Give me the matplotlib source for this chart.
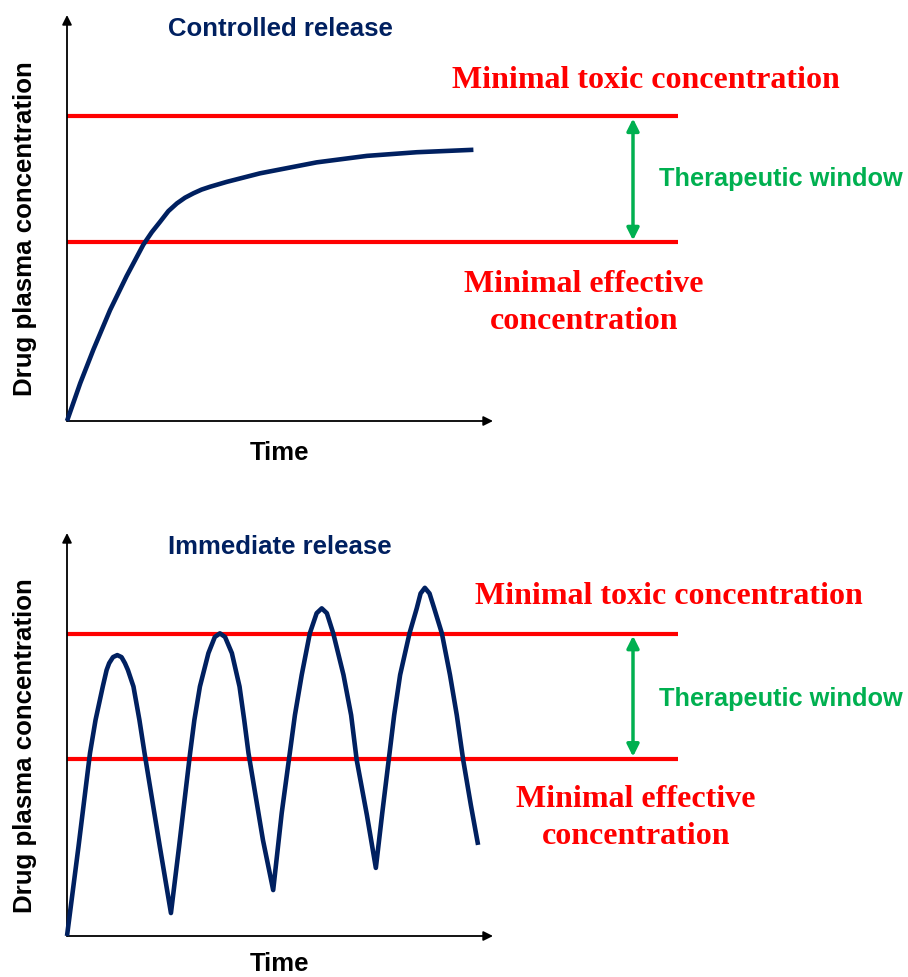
import matplotlib
matplotlib.use("Agg")
import matplotlib.pyplot as plt

# ---- data (time and concentration in arbitrary units) ----
controlled_t = [0, 0.31, 0.62, 1.01, 1.40, 1.79, 1.99, 2.18, 2.38, 2.58, 2.77, 2.97,
                3.16, 3.36, 3.75, 4.53, 5.86, 7.04, 8.21, 9.54]
controlled_c = [0, 0.93, 1.76, 2.73, 3.57, 4.34, 4.65, 4.90, 5.17, 5.36, 5.50, 5.61,
                5.70, 5.77, 5.89, 6.10, 6.37, 6.53, 6.62, 6.68]

immediate_t = [0, 0.27, 0.54, 0.67, 0.84, 0.93, 0.99, 1.08, 1.18, 1.28, 1.36, 1.43, 1.56,
               1.70, 1.82, 2.18, 2.44,
               2.63, 2.89, 2.99, 3.12, 3.32, 3.47, 3.59, 3.71, 3.87, 4.05, 4.16, 4.26,
               4.60, 4.84,
               5.04, 5.35, 5.51, 5.70, 5.86, 5.98, 6.10, 6.25, 6.49, 6.67, 6.80, 7.04, 7.25,
               7.40, 7.68, 7.82, 8.04, 8.21, 8.30, 8.40, 8.51, 8.62, 8.80, 8.99, 9.15,
               9.30, 9.48, 9.65]
immediate_c = [0, 2.22, 4.54, 5.36, 6.19, 6.60, 6.77, 6.92, 6.97, 6.92, 6.77, 6.60, 6.19,
               5.36, 4.54, 2.21, 0.57,
               2.21, 4.54, 5.36, 6.19, 7.02, 7.42, 7.51, 7.42, 7.02, 6.19, 5.36, 4.54,
               2.38, 1.14,
               3.05, 5.48, 6.48, 7.51, 8.01, 8.13, 8.01, 7.51, 6.48, 5.48, 4.37, 3.00, 1.69,
               3.05, 5.48, 6.48, 7.51, 8.13, 8.50, 8.64, 8.50, 8.13, 7.51, 6.48, 5.48,
               4.37, 3.25, 2.26]

toxic_level = 7.5
effective_level = 4.4

NAVY = "#002060"
RED = "#ff0000"
GREEN = "#00b050"

W, H = 908, 977
fig = plt.figure(figsize=(W / 100, H / 100), dpi=100)


def fx(px):
    return px / W


def fy(py):
    return 1 - py / H


def panel(top_px, origin_px, t, c, title, toxic_xy, window_y, effective_xy, time_y):
    ax = fig.add_axes([fx(67), fy(origin_px), fx(W - 67), (origin_px - top_px) / H])
    ax.set_xlim(0, (W - 67) / 42.6)
    ax.set_ylim(0, 10)
    ax.axis("off")

    # axes with arrow heads
    for tip in [(10, 0), (0, 10)]:
        ax.annotate("", xy=tip, xytext=(0, 0),
                    arrowprops=dict(arrowstyle="-|>", color="black", lw=1.3,
                                    mutation_scale=14, shrinkA=0, shrinkB=0),
                    annotation_clip=False)

    line_end = (678 - 67) / 42.6
    ax.hlines([toxic_level, effective_level], 0, line_end, color=RED, lw=3, zorder=2)
    ax.plot(t, c, color=NAVY, lw=3.3, solid_capstyle="butt", solid_joinstyle="round",
            zorder=3, clip_on=False)

    x_win = (633 - 67) / 42.6
    ax.annotate("", xy=(x_win, toxic_level - 0.05), xytext=(x_win, effective_level + 0.05),
                arrowprops=dict(arrowstyle="<|-|>", color=GREEN, lw=2.5, mutation_scale=18,
                                shrinkA=0, shrinkB=0))

    sans = ["Liberation Sans", "DejaVu Sans"]
    serif = ["Liberation Serif", "DejaVu Serif"]
    fig.text(fx(280), fy(top_px + 14), title, color=NAVY, fontsize=18.5, fontweight="bold",
             family=sans, ha="center", va="center")
    fig.text(fx(toxic_xy[0]), fy(toxic_xy[1]), "Minimal toxic concentration", color=RED,
             fontsize=23, fontweight="bold", family=serif, ha="center", va="center")
    fig.text(fx(659), fy(window_y), "Therapeutic window", color=GREEN, fontsize=18.3,
             fontweight="bold", family=sans, ha="left", va="center")
    fig.text(fx(effective_xy[0]), fy(effective_xy[1]), "Minimal effective\nconcentration",
             color=RED, fontsize=23, fontweight="bold", family=serif, ha="center",
             va="center", linespacing=1.4)
    fig.text(fx(25), fy((top_px + origin_px) / 2 + 11), "Drug plasma concentration",
             color="black", fontsize=18.6, fontweight="bold", family=sans, rotation=90,
             ha="center", va="center")
    fig.text(fx(280), fy(time_y), "Time", color="black", fontsize=18.5,
             fontweight="bold", family=sans, ha="center", va="center")
    return ax


panel(15, 421, controlled_t, controlled_c, "Controlled release",
      (646, 80), 179, (584, 303), 453)
panel(533, 936, immediate_t, immediate_c, "Immediate release",
      (669, 597), 699, (636, 818), 964)

fig.savefig("out.png", dpi=100)
